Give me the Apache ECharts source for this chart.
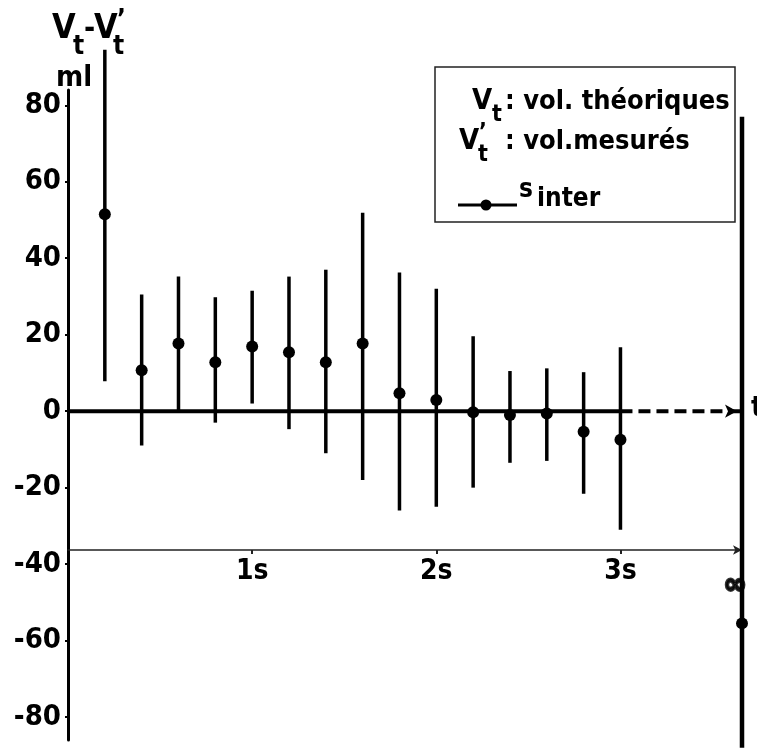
<!DOCTYPE html>
<html><head><meta charset="utf-8">
<script src="https://cdn.jsdelivr.net/npm/echarts@6/dist/echarts.min.js"></script>
<style>html,body{margin:0;padding:0;background:#fff}#c{width:757px;height:748px}</style>
</head><body><div id="c"></div>
<script>
// ---- data ----
const times = [0.2, 0.4, 0.6, 0.8, 1.0, 1.2, 1.4, 1.6, 1.8, 2.0, 2.2, 2.4, 2.6, 2.8, 3.0];
const means = [51.5, 10.7, 17.7, 12.8, 16.9, 15.4, 12.8, 17.7, 4.7, 2.9, -0.3, -1.0, -0.6, -5.4, -7.5];
const highs = [94.5, 30.5, 35.2, 29.8, 31.5, 35.2, 37.0, 51.9, 36.3, 32.0, 19.6, 10.5, 11.2, 10.2, 16.7];
const lows  = [7.8, -9.0, 0.0, -3.0, 2.0, -4.7, -11.0, -18.0, -26.0, -25.0, -20.0, -13.5, -13.0, -21.6, -31.0];
const infPos = 3.66;          // position of the "∞" column on the time axis
const infMean = -55.5;
const infHigh = 77;
const infLow = -88;
const yTickValues = [-80, -60, -40, -20, 0, 20, 40, 60, 80];
const timeTickValues = [1, 2, 3];
const timeTickLabels = ['1s', '2s', '3s'];
const timeAxisLevel = -36;
const lastMeasured = 3.0;

const FONT = '"Liberation Sans Narrow","DejaVu Sans Condensed","Liberation Sans",sans-serif';
const chart = echarts.init(document.getElementById('c'));

const barData = times.map((t, i) => [t, lows[i], highs[i]]);
barData.push([infPos, infLow, infHigh]);
const ptData = times.map((t, i) => [t, means[i]]);
ptData.push([infPos, infMean]);

function errBar(params, api) {
  const x = api.value(0);
  const p1 = api.coord([x, api.value(1)]);
  const p2 = api.coord([x, api.value(2)]);
  const w = x === infPos ? 4.5 : 3.5;
  return { type: 'line', shape: { x1: p1[0], y1: p1[1], x2: p2[0], y2: p2[1] },
           style: { stroke: '#000', lineWidth: w } };
}

const labelMap = {};
timeTickValues.forEach((v, i) => labelMap[v] = timeTickLabels[i]);

chart.setOption({
  animation: false,
  backgroundColor: '#fff',
  grid: { left: 68, right: 15, top: 90, bottom: 8 },
  xAxis: {
    type: 'value', min: 0, max: infPos, position: 'bottom', offset: -190,
    axisLine: { show: true, onZero: false, lineStyle: { color: '#222', width: 1.5 }, symbol: ['none', 'arrow'], symbolSize: [7, 9] },
    axisTick: { show: true, customValues: timeTickValues, length: 4, inside: false, lineStyle: { color: '#222', width: 2 } },
    axisLabel: { show: true, customValues: timeTickValues, formatter: v => labelMap[v] || '',
                 color: '#000', fontFamily: FONT, fontWeight: 'bold', fontSize: 28, margin: 8 },
    splitLine: { show: false }
  },
  yAxis: {
    type: 'value', min: -86, max: 84,
    axisLine: { show: true, lineStyle: { color: '#000', width: 3 } },
    axisTick: { show: true, customValues: yTickValues, length: 3, inside: false, lineStyle: { color: '#000', width: 2 } },
    axisLabel: { show: true, customValues: yTickValues, color: '#000', fontFamily: FONT, fontWeight: 'bold', fontSize: 29, margin: 7 },
    splitLine: { show: false }
  },
  series: [
    { type: 'line', data: [[0, 0], [lastMeasured, 0]], symbol: 'none', lineStyle: { color: '#000', width: 4 }, z: 3 },
    { type: 'line', data: [[lastMeasured, 0], [infPos, 0]], symbol: 'none', lineStyle: { color: '#000', width: 4, type: [12, 6] }, z: 3,
      markPoint: { symbol: 'arrow', symbolSize: [10, 12], symbolRotate: -90, symbolOffset: [-5, 0], itemStyle: { color: '#000' },
                   label: { show: false }, data: [{ coord: [infPos, 0] }] } },
    { type: 'custom', renderItem: errBar, data: barData, z: 4, clip: false },
    { type: 'scatter', data: ptData, symbol: 'circle', symbolSize: 12, itemStyle: { color: '#000', opacity: 1 }, z: 5 },
    { type: 'scatter', data: [[infPos, timeAxisLevel]], symbolSize: 0, z: 5,
      label: { show: true, formatter: '∞', position: 'bottom', offset: [-7, 18], color: '#000',
               textBorderColor: '#000', textBorderWidth: 2.5,
               fontFamily: 'DejaVu Sans', fontWeight: 'bold', fontSize: 28 } }
  ],
  graphic: [
    // axis title
    { type: 'text', left: 52, top: 12, style: { text: 'V', font: 'bold 34px ' + FONT, fill: '#000' } },
    { type: 'text', left: 73, top: 34, style: { text: 't', font: 'bold 26px ' + FONT, fill: '#000' } },
    { type: 'text', left: 84, top: 15, style: { text: '-', font: 'bold 30px ' + FONT, fill: '#000' } },
    { type: 'text', left: 94, top: 12, style: { text: 'V', font: 'bold 34px ' + FONT, fill: '#000' } },
    { type: 'text', left: 117, top: 8, style: { text: '\u2019', font: 'bold 26px ' + FONT, fill: '#000' } },
    { type: 'text', left: 113, top: 34, style: { text: 't', font: 'bold 26px ' + FONT, fill: '#000' } },
    { type: 'text', left: 56, top: 64, style: { text: 'ml', font: 'bold 29px ' + FONT, fill: '#000' } },
    // legend box
    { type: 'rect', shape: { x: 435, y: 67, width: 300, height: 155 }, style: { fill: '#fff', stroke: '#222', lineWidth: 1.5 }, z: 10 },
    { type: 'text', left: 472, top: 87, z: 11, style: { text: 'V', font: 'bold 29px ' + FONT, fill: '#000' } },
    { type: 'text', left: 492, top: 104, z: 11, style: { text: 't', font: 'bold 23px ' + FONT, fill: '#000' } },
    { type: 'text', left: 505, top: 88, z: 11, style: { text: ': vol. théoriques', font: 'bold 27px ' + FONT, fill: '#000' } },
    { type: 'text', left: 459, top: 127, z: 11, style: { text: 'V', font: 'bold 29px ' + FONT, fill: '#000' } },
    { type: 'text', left: 479, top: 122, z: 11, style: { text: '\u2019', font: 'bold 23px ' + FONT, fill: '#000' } },
    { type: 'text', left: 478, top: 144, z: 11, style: { text: 't', font: 'bold 23px ' + FONT, fill: '#000' } },
    { type: 'text', left: 505, top: 128, z: 11, style: { text: ': vol.mesurés', font: 'bold 27px ' + FONT, fill: '#000' } },
    { type: 'line', shape: { x1: 458, y1: 205, x2: 517, y2: 205 }, style: { stroke: '#000', lineWidth: 3 }, z: 11 },
    { type: 'circle', shape: { cx: 486, cy: 205, r: 5.5 }, style: { fill: '#000' }, z: 11 },
    { type: 'text', left: 519, top: 177, z: 11, style: { text: 's', font: 'bold 26px ' + FONT, fill: '#000' } },
    { type: 'text', left: 537, top: 186, z: 11, style: { text: 'inter', font: 'bold 26px ' + FONT, fill: '#000' } },
    // right-edge "t"
    { type: 'text', left: 751, top: 394, style: { text: 't', font: 'bold 29px ' + FONT, fill: '#000' } }
  ]
});
</script>
</body></html>
